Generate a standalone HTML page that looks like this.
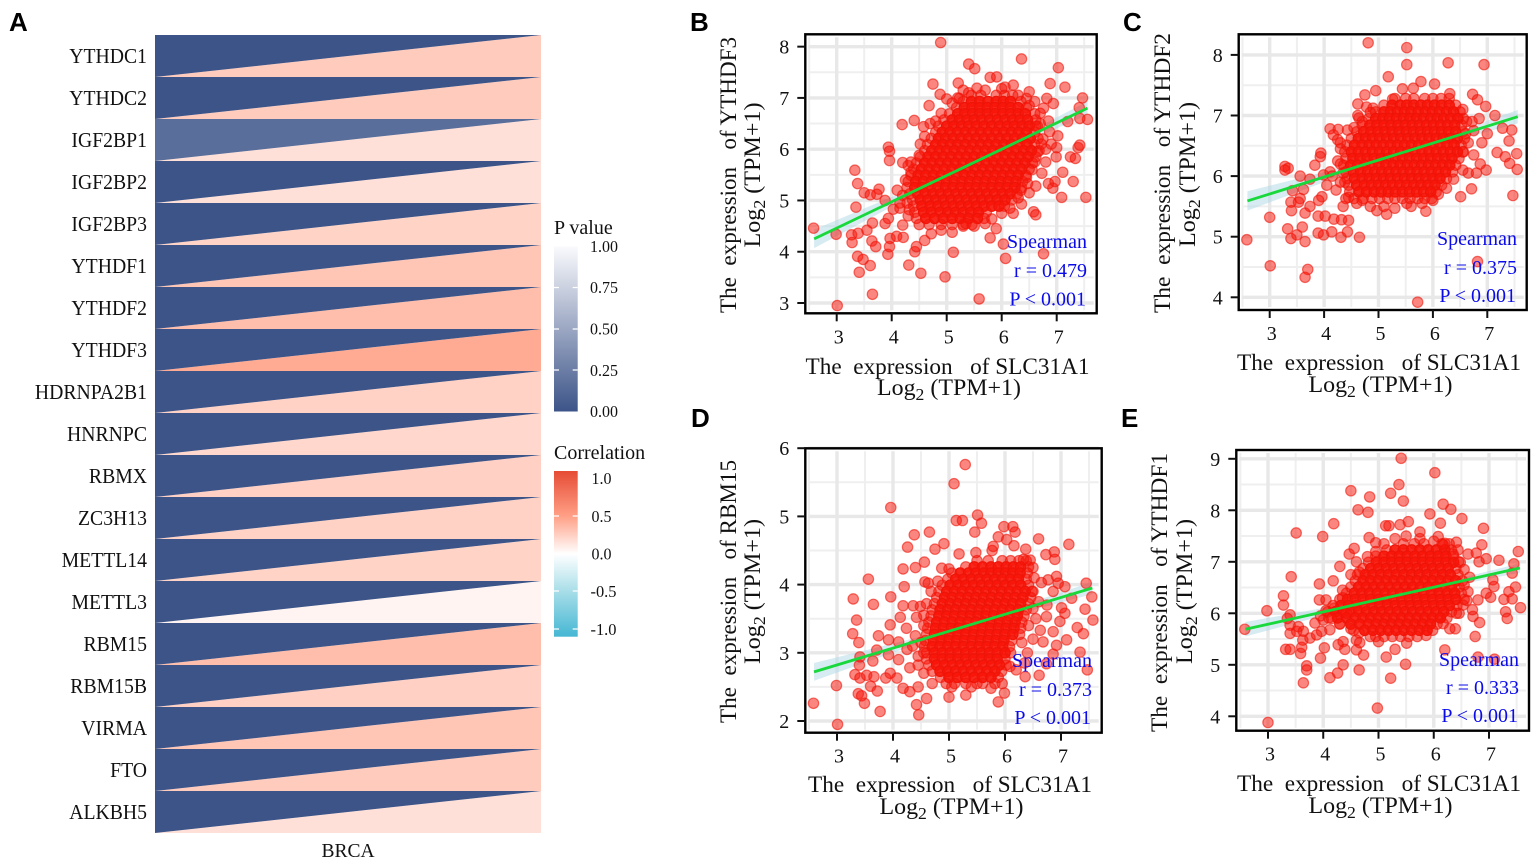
<!DOCTYPE html>
<html lang="en">
<head>
<meta charset="utf-8">
<title>SLC31A1 correlation figure</title>
<style>
html,body{margin:0;padding:0;background:#fff;}
svg{display:block;font-family:"Liberation Serif",serif;}
.ttl{font-size:23px;fill:#111;white-space:pre;}
.stat{font-size:20px;fill:#0b0bea;text-anchor:end;}
.letter{font-family:"Liberation Sans",sans-serif;font-weight:700;font-size:26px;fill:#000;}
.leg{font-size:17px;fill:#111;}
.legt{font-size:20px;fill:#111;}
</style>
</head>
<body>
<svg id="fig" width="1535" height="862" viewBox="0 0 1535 862" xmlns="http://www.w3.org/2000/svg">
<defs>
<linearGradient id="pGrad" x1="0" y1="0" x2="0" y2="1"><stop offset="0" stop-color="#fafafd"/><stop offset="1" stop-color="#3C5488"/></linearGradient>
<linearGradient id="cGrad" x1="0" y1="0" x2="0" y2="1"><stop offset="0" stop-color="#E64B35"/><stop offset="0.27" stop-color="#FF9F85"/><stop offset="0.5" stop-color="#ffffff"/><stop offset="0.73" stop-color="#A6DDE8"/><stop offset="1" stop-color="#45B7D3"/></linearGradient>
</defs>
<rect width="1535" height="862" fill="#fff"/>

<text class="letter" x="9" y="31">A</text>
<text class="letter" x="690" y="31">B</text>
<text class="letter" x="1123" y="31">C</text>
<text class="letter" x="691" y="427">D</text>
<text class="letter" x="1121" y="427">E</text>

<g id="heat"></g>
<text x="348" y="857" text-anchor="middle" font-size="19.5" fill="#111">BRCA</text>

<g>
<text class="legt" x="554" y="234">P value</text>
<rect x="554" y="246.5" width="23.7" height="165" fill="url(#pGrad)"/>
<g stroke="#fff" stroke-width="1.2">
<path d="M554 287.5h5M572.7 287.5h5M554 329h5M572.7 329h5M554 370h5M572.7 370h5"/>
</g>
<text class="leg" x="590" y="252" textLength="28" lengthAdjust="spacingAndGlyphs">1.00</text>
<text class="leg" x="590" y="293" textLength="28" lengthAdjust="spacingAndGlyphs">0.75</text>
<text class="leg" x="590" y="334.5" textLength="28" lengthAdjust="spacingAndGlyphs">0.50</text>
<text class="leg" x="590" y="376" textLength="28" lengthAdjust="spacingAndGlyphs">0.25</text>
<text class="leg" x="590" y="417" textLength="28" lengthAdjust="spacingAndGlyphs">0.00</text>
</g>

<g>
<text class="legt" x="554" y="459">Correlation</text>
<rect x="554" y="471" width="23.7" height="165.7" fill="url(#cGrad)"/>
<g stroke="#fff" stroke-width="1.2">
<path d="M554 516h5M572.7 516h5M554 553.5h5M572.7 553.5h5M554 591h5M572.7 591h5M554 629h5M572.7 629h5"/>
</g>
<text class="leg" x="591.5" y="484" textLength="20" lengthAdjust="spacingAndGlyphs">1.0</text>
<text class="leg" x="591.5" y="522" textLength="20" lengthAdjust="spacingAndGlyphs">0.5</text>
<text class="leg" x="591.5" y="559.5" textLength="20" lengthAdjust="spacingAndGlyphs">0.0</text>
<text class="leg" x="590.5" y="597" textLength="26" lengthAdjust="spacingAndGlyphs">-0.5</text>
<text class="leg" x="590.5" y="635" textLength="26" lengthAdjust="spacingAndGlyphs">-1.0</text>
</g>

<g id="panelB"></g>
<g id="panelC"></g>
<g id="panelD"></g>
<g id="panelE"></g>

<!-- panel B text -->
<g>
<text class="ttl" x="947.5" y="374" text-anchor="middle" textLength="284" lengthAdjust="spacingAndGlyphs" xml:space="preserve">The  expression   of SLC31A1</text>
<text class="ttl" x="949" y="395" text-anchor="middle" textLength="144" lengthAdjust="spacingAndGlyphs" xml:space="preserve">Log<tspan font-size="17" dy="5">2</tspan><tspan dy="-5"> (TPM+1)</tspan></text>
<text class="ttl" transform="translate(736,175) rotate(-90)" text-anchor="middle" textLength="276" lengthAdjust="spacingAndGlyphs" xml:space="preserve">The  expression   of YTHDF3</text>
<text class="ttl" transform="translate(760,175) rotate(-90)" text-anchor="middle" textLength="145" lengthAdjust="spacingAndGlyphs" xml:space="preserve">Log<tspan font-size="17" dy="5">2</tspan><tspan dy="-5"> (TPM+1)</tspan></text>
<text class="stat" x="1087" y="248">Spearman</text>
<text class="stat" x="1087" y="277">r = 0.479</text>
<text class="stat" x="1086" y="305.5">P &lt; 0.001</text>
</g>
<!-- panel C text -->
<g>
<text class="ttl" x="1379" y="370" text-anchor="middle" textLength="284" lengthAdjust="spacingAndGlyphs" xml:space="preserve">The  expression   of SLC31A1</text>
<text class="ttl" x="1380.5" y="392" text-anchor="middle" textLength="144" lengthAdjust="spacingAndGlyphs" xml:space="preserve">Log<tspan font-size="17" dy="5">2</tspan><tspan dy="-5"> (TPM+1)</tspan></text>
<text class="ttl" transform="translate(1170,173) rotate(-90)" text-anchor="middle" textLength="280" lengthAdjust="spacingAndGlyphs" xml:space="preserve">The  expression   of YTHDF2</text>
<text class="ttl" transform="translate(1195,174.5) rotate(-90)" text-anchor="middle" textLength="145" lengthAdjust="spacingAndGlyphs" xml:space="preserve">Log<tspan font-size="17" dy="5">2</tspan><tspan dy="-5"> (TPM+1)</tspan></text>
<text class="stat" x="1517" y="245">Spearman</text>
<text class="stat" x="1517" y="274">r = 0.375</text>
<text class="stat" x="1516" y="302">P &lt; 0.001</text>
</g>
<!-- panel D text -->
<g>
<text class="ttl" x="950" y="792" text-anchor="middle" textLength="284" lengthAdjust="spacingAndGlyphs" xml:space="preserve">The  expression   of SLC31A1</text>
<text class="ttl" x="951.5" y="814" text-anchor="middle" textLength="144" lengthAdjust="spacingAndGlyphs" xml:space="preserve">Log<tspan font-size="17" dy="5">2</tspan><tspan dy="-5"> (TPM+1)</tspan></text>
<text class="ttl" transform="translate(736,591.5) rotate(-90)" text-anchor="middle" textLength="263" lengthAdjust="spacingAndGlyphs" xml:space="preserve">The  expression   of RBM15</text>
<text class="ttl" transform="translate(760,591.5) rotate(-90)" text-anchor="middle" textLength="145" lengthAdjust="spacingAndGlyphs" xml:space="preserve">Log<tspan font-size="17" dy="5">2</tspan><tspan dy="-5"> (TPM+1)</tspan></text>
<text class="stat" x="1092" y="667">Spearman</text>
<text class="stat" x="1092" y="696">r = 0.373</text>
<text class="stat" x="1091" y="724">P &lt; 0.001</text>
</g>
<!-- panel E text -->
<g>
<text class="ttl" x="1379" y="791" text-anchor="middle" textLength="284" lengthAdjust="spacingAndGlyphs" xml:space="preserve">The  expression   of SLC31A1</text>
<text class="ttl" x="1380.5" y="813" text-anchor="middle" textLength="144" lengthAdjust="spacingAndGlyphs" xml:space="preserve">Log<tspan font-size="17" dy="5">2</tspan><tspan dy="-5"> (TPM+1)</tspan></text>
<text class="ttl" transform="translate(1167,592.5) rotate(-90)" text-anchor="middle" textLength="279" lengthAdjust="spacingAndGlyphs" xml:space="preserve">The  expression   of YTHDF1</text>
<text class="ttl" transform="translate(1192,591.5) rotate(-90)" text-anchor="middle" textLength="145" lengthAdjust="spacingAndGlyphs" xml:space="preserve">Log<tspan font-size="17" dy="5">2</tspan><tspan dy="-5"> (TPM+1)</tspan></text>
<text class="stat" x="1519" y="666">Spearman</text>
<text class="stat" x="1519" y="694">r = 0.333</text>
<text class="stat" x="1518" y="722">P &lt; 0.001</text>
</g>
</svg>

<script>
// ---------- heatmap data ----------
const genes=["YTHDC1","YTHDC2","IGF2BP1","IGF2BP2","IGF2BP3","YTHDF1","YTHDF2","YTHDF3","HDRNPA2B1","HNRNPC","RBMX","ZC3H13","METTL14","METTL3","RBM15","RBM15B","VIRMA","FTO","ALKBH5"];
const correlations=[0.29,0.29,0.17,0.17,0.24,0.32,0.36,0.465,0.25,0.22,0.26,0.25,0.24,0.06,0.36,0.26,0.32,0.29,0.17];
const pValues=[0,0,0.15,0,0,0,0,0,0,0,0,0,0,0,0,0,0,0,0];

// ---------- scatter data ----------
const xTicks=[3,4,5,6,7];
const xMinor=[2.5,3.5,4.5,5.5,6.5,7.5];
const yTicksB=[3,4,5,6,7,8];
const yMinorB=[3.5,4.5,5.5,6.5,7.5];
const fitXB=[2.59,7.56];
const fitYB=[4.25,6.8];
const bandHalfB=[0.18,0.03,0.13];
const pointsB=[[4.89,8.08],[6.36,7.76],[5.4,7.66],[5.51,7.57],[7.03,7.59],[5.79,7.4],[5.91,7.41],[4.75,7.27],[5.21,7.29],[6.88,7.28],[7.15,7.21],[7.47,7],[4.88,7.07],[5,6.98],[4.68,6.85],[7.41,6.81],[7.56,6.58],[7.42,6.6],[7.2,6.54],[4.41,6.56],[4.19,6.48],[4.58,6.44],[3.94,6.04],[3.96,5.96],[3.96,5.78],[4.52,6.1],[4.2,5.74],[4.3,5.68],[3.33,5.59],[3.38,5.33],[3.5,5.15],[3.61,5.11],[3.77,5.22],[3.73,5.12],[3.35,4.87],[3.88,5],[3.65,4.56],[2.58,4.46],[2.99,4.34],[3.27,4.33],[3.39,4.36],[3.55,4.42],[3.28,4.18],[3.64,4.21],[3.71,4.1],[3.38,3.91],[3.48,3.85],[3.61,3.73],[3.41,3.6],[3.65,3.17],[3.01,2.95],[4.31,3.74],[4.53,3.58],[4.97,3.51],[5.59,3.08],[5.12,3.99],[4.42,4],[3.93,3.95],[3.96,4.1],[3.97,4.26],[4.09,4.3],[4.21,4.28],[4.03,4.83],[4.15,4.85],[3.88,4.55],[3.94,4.65],[5.79,4.27],[5.9,4.45],[5.82,4.64],[6.03,4.15],[6.07,3.87],[6.76,3.96],[6.21,4.75],[6.36,4.93],[6.58,4.78],[6.62,4.72],[6.5,5.15],[6.62,5.28],[6.47,5.33],[6.73,5.53],[6.85,5.33],[6.93,5.24],[6.97,5.37],[7.09,5.06],[7.11,5.55],[7.3,5.37],[7.53,5.06],[7.25,5.85],[7.34,5.82],[7.39,6.03],[7.42,6.08],[7,6.03],[7.02,6.26],[6.99,5.85],[6.87,6.34],[6.82,6.99],[6.94,6.89],[6.5,7.12],[6.45,6.99],[6.6,6.93],[6.76,6.8],[6.21,7.25],[6.06,7.21],[5.55,7.19],[5.3,7.15],[5.23,6.99],[4.3,4.7],[4.2,4.52],[4.45,4.1],[4.6,4.22],[4.72,4.35],[4.9,4.42],[5.1,4.38],[5.3,4.5],[4.25,5.4],[4.1,5.2],[4.35,5.55],[4.5,5.88],[6.75,6.2],[6.85,6.55],[6.9,6.1],[6.8,5.75],[6.65,5.95],[6.7,6.5],[6.7,6.7],[6.62,6.45],[6.72,6.1],[6.8,6],[6.55,5.6],[6.6,5.75],[6.45,5.45],[6.35,5.2],[6.3,5.05],[6.15,4.85],[6,4.75],[5.7,4.55],[5.5,4.5],[5.35,4.55],[4.35,5.75],[4.6,6.25],[4.7,6.5],[4.8,6.55],[4.9,6.7],[5.1,6.9],[5.2,7],[5.4,7.1],[5.7,7.15],[6,7.18],[6.3,7.05],[6.5,6.85],[4.2,5.1],[4.28,4.95],[4.15,4.95],[4.32,4.82]];
const coreRowsB=[[7.05,[5.45,5.62,5.9,6.05,6.2]],[6.93,[5.3,5.45,5.6,5.75,5.9,6.03,6.16,6.35]],[6.81,[5.18,5.32,5.46,5.6,5.74,5.88,6.02,6.16,6.3,6.45]],[6.69,[5.05,5.2,5.33,5.47,5.6,5.74,5.88,6.02,6.16,6.3,6.43,6.6]],[6.57,[4.95,5.1,5.23,5.37,5.5,5.64,5.78,5.92,6.06,6.2,6.33,6.47,6.62]],[6.45,[4.85,5,5.13,5.27,5.4,5.54,5.68,5.82,5.96,6.1,6.23,6.37,6.5,6.65]],[6.33,[4.8,4.92,5.06,5.2,5.34,5.48,5.62,5.76,5.9,6.04,6.18,6.31,6.45,6.6]],[6.21,[4.72,4.85,4.98,5.12,5.26,5.4,5.54,5.68,5.82,5.96,6.1,6.24,6.38,6.52,6.66]],[6.09,[4.65,4.8,4.93,5.07,5.2,5.34,5.48,5.62,5.76,5.9,6.04,6.18,6.32,6.46,6.6]],[5.97,[4.6,4.73,4.87,5,5.14,5.28,5.42,5.56,5.7,5.84,5.98,6.12,6.26,6.4,6.54,6.68]],[5.85,[4.52,4.66,4.8,4.94,5.08,5.22,5.36,5.5,5.64,5.78,5.92,6.06,6.2,6.34,6.48,6.62]],[5.73,[4.45,4.6,4.74,4.88,5.02,5.16,5.3,5.44,5.58,5.72,5.86,6,6.14,6.28,6.42,6.56]],[5.61,[4.4,4.54,4.68,4.82,4.96,5.1,5.24,5.38,5.52,5.66,5.8,5.94,6.08,6.22,6.36,6.5]],[5.49,[4.35,4.48,4.62,4.76,4.9,5.04,5.18,5.32,5.46,5.6,5.74,5.88,6.02,6.16,6.3,6.44]],[5.37,[4.3,4.44,4.58,4.72,4.86,5,5.14,5.28,5.42,5.56,5.7,5.84,5.98,6.12,6.26,6.38]],[5.25,[4.28,4.42,4.56,4.7,4.84,4.98,5.12,5.26,5.4,5.54,5.68,5.82,5.96,6.1,6.24,6.36]],[5.13,[4.33,4.47,4.61,4.75,4.89,5.03,5.17,5.31,5.45,5.59,5.73,5.87,6.01,6.15,6.28]],[5.01,[4.38,4.52,4.66,4.8,4.94,5.08,5.22,5.36,5.5,5.64,5.78,5.92,6.06,6.18]],[4.89,[4.4,4.55,4.7,4.84,4.98,5.12,5.26,5.4,5.54,5.68,5.82,5.95,6.05]],[4.77,[4.42,4.58,4.72,4.88,5.02,5.16,5.3,5.44,5.58,5.72]],[4.65,[4.45,4.62,4.78,4.94,5.1,5.25,5.4,5.56,5.68]],[4.53,[4.5,4.68,4.9,5.1,5.3,5.46]]];

const yTicksC=[4,5,6,7,8];
const yMinorC=[4.5,5.5,6.5,7.5];
const fitXC=[2.59,7.56];
const fitYC=[5.59,6.98];
const bandHalfC=[0.16,0.025,0.11];
const pointsC=[[4.81,8.2],[5.52,8.12],[5.52,7.84],[6.28,7.87],[6.94,7.84],[5.18,7.64],[5.78,7.56],[6.03,7.52],[5.44,7.44],[5.64,7.45],[4.95,7.41],[4.75,7.34],[6.73,7.35],[6.82,7.26],[6.31,7.36],[4.62,7.19],[6.97,7.15],[7.14,7],[4.78,7.14],[4.9,7.12],[4.64,6.96],[5.26,7.27],[4.11,6.78],[4.26,6.77],[4.43,6.76],[4.17,6.68],[7.28,6.79],[7.45,6.76],[7.4,6.58],[7.18,6.39],[7.33,6.32],[7.54,6.37],[7.41,6.21],[7.55,6.11],[7.47,5.68],[6.51,5.66],[6.71,5.79],[6.98,6.1],[6.87,6.2],[5.87,5.42],[3.93,6.32],[3.94,6.38],[3.83,6.18],[3.28,6.16],[3.34,6.13],[3.28,6.1],[3.56,6],[3.74,5.95],[3.62,5.78],[3.42,5.76],[3.56,5.63],[3.39,5.57],[3.53,5.57],[3.4,5.43],[3.65,5.39],[3.74,5.5],[3.89,5.34],[4.02,5.34],[4.18,5.29],[4.32,5.28],[4.45,5.27],[3,5.32],[2.58,4.95],[3.33,5.13],[3.6,5.16],[3.5,5.03],[3.39,4.97],[3.65,4.92],[3.89,5.06],[3.99,5.03],[4.14,5.08],[4.43,5.08],[4.31,4.99],[4.65,4.99],[3.01,4.52],[3.7,4.46],[3.65,4.33],[5.72,3.92],[6.82,4.59],[3.96,5.66],[3.9,5.6],[4.35,5.5],[3.99,6.02],[4.11,6.07],[4.22,5.77],[4.05,5.85],[4.97,5.43],[5.15,5.37],[5.3,5.47],[5.52,5.55],[4.25,6.25],[4.15,6],[4.3,6.45],[4.38,5.9],[6.65,6.55],[6.75,6.75],[6.85,6.95],[6.9,6.55],[6.75,6.35],[6.65,6.05],[6.55,6.1],[6.8,6.05],[7,6.7],[6.72,6.9],[4.25,6.6],[4.3,6.2],[4.3,5.9],[4.35,6.05],[4.3,6.55],[4.45,5.65],[4.6,5.55],[4.7,5.6],[4.85,5.5],[5.1,5.5],[5.6,5.5],[5.8,5.55],[6,5.6],[6.1,5.7],[6.25,5.8],[6.38,5.95],[6.55,6.4],[6.6,6.7],[6.62,6.9],[6.55,7.1],[4.7,6.9],[4.55,6.8],[4.62,7],[4.85,7.05]];
const coreRowsC=[[7.28,[5.3,5.5,5.65,5.85,6,6.15,6.3]],[7.17,[5.1,5.25,5.4,5.52,5.65,5.78,5.9,6.03,6.16,6.3,6.42]],[7.06,[4.95,5.1,5.22,5.35,5.48,5.6,5.73,5.86,5.99,6.12,6.25,6.38,6.5]],[6.95,[4.82,4.95,5.08,5.2,5.33,5.46,5.58,5.7,5.83,5.96,6.08,6.2,6.33,6.46,6.56]],[6.84,[4.7,4.84,4.97,5.1,5.23,5.36,5.49,5.62,5.75,5.88,6.01,6.14,6.27,6.4,6.53]],[6.73,[4.6,4.73,4.86,4.99,5.12,5.25,5.38,5.51,5.64,5.77,5.9,6.03,6.16,6.29,6.42,6.55]],[6.62,[4.5,4.63,4.76,4.89,5.02,5.15,5.28,5.41,5.54,5.67,5.8,5.93,6.06,6.19,6.32,6.45,6.58]],[6.51,[4.42,4.56,4.7,4.83,4.96,5.09,5.22,5.35,5.48,5.61,5.74,5.87,6,6.13,6.26,6.39,6.52]],[6.4,[4.38,4.5,4.63,4.76,4.89,5.02,5.15,5.28,5.41,5.54,5.67,5.8,5.93,6.06,6.19,6.32,6.45,6.56]],[6.29,[4.4,4.53,4.66,4.79,4.92,5.05,5.18,5.31,5.44,5.57,5.7,5.83,5.96,6.09,6.22,6.35,6.48]],[6.18,[4.36,4.49,4.62,4.75,4.88,5.01,5.14,5.27,5.4,5.53,5.66,5.79,5.92,6.05,6.18,6.31,6.42]],[6.07,[4.4,4.54,4.67,4.8,4.93,5.06,5.19,5.32,5.45,5.58,5.71,5.84,5.97,6.1,6.23,6.36]],[5.96,[4.42,4.56,4.7,4.83,4.96,5.09,5.22,5.35,5.48,5.61,5.74,5.87,6,6.13,6.25]],[5.85,[4.45,4.6,4.74,4.87,5,5.13,5.26,5.39,5.52,5.65,5.78,5.91,6.04,6.16]],[5.74,[4.47,4.64,4.78,4.92,5.05,5.18,5.31,5.44,5.57,5.7,5.83,5.96,6.06]],[5.63,[4.4,4.55,4.72,4.88,5.02,5.17,5.3,5.44,5.58,5.72,5.85,5.98]]];

const yTicksD=[2,3,4,5,6];
const yMinorD=[2.5,3.5,4.5,5.5];
const fitXD=[2.59,7.56];
const fitYD=[2.72,3.95];
const bandHalfD=[0.13,0.02,0.09];
const pointsD=[[5.29,5.76],[5.09,5.48],[3.96,5.13],[5.51,5.02],[5.58,4.9],[5.13,4.94],[5.24,4.94],[5.46,4.77],[5.98,4.85],[6.14,4.85],[6.18,4.77],[5.88,4.7],[6.03,4.66],[6.6,4.67],[6.16,4.57],[7.14,4.59],[4.65,4.77],[4.38,4.73],[4.26,4.55],[4.91,4.6],[4.75,4.52],[5.79,4.56],[5.77,4.5],[6.37,4.52],[5.18,4.45],[5.48,4.47],[6.88,4.48],[6.73,4.44],[6.89,4.37],[4.56,4.33],[4.4,4.25],[4.18,4.23],[4.87,4.24],[5,4.23],[3.56,4.08],[4.2,3.97],[4.57,4.04],[4.63,4.02],[3.29,3.79],[3.65,3.71],[3.96,3.82],[3.35,3.48],[3.28,3.28],[3.39,3.15],[3.74,3.25],[3.95,3.41],[4.13,3.52],[4.18,3.69],[4.36,3.69],[4.49,3.68],[4.42,3.52],[4.24,3.36],[3.92,3.19],[4.1,3.16],[3.71,3.04],[3.92,2.97],[3.41,2.94],[3.64,2.88],[3.4,2.82],[3.32,2.68],[3.41,2.63],[3.53,2.67],[3.66,2.65],[3.6,2.51],[3.72,2.44],[3.38,2.4],[3.44,2.37],[3.49,2.26],[2.99,2.52],[2.58,2.26],[3.01,1.95],[3.77,2.14],[4.42,2.24],[4.46,2.09],[4.6,2.33],[5,2.35],[5.3,2.38],[5.88,2.28],[5.99,2.41],[4.18,2.48],[4.3,2.43],[4.45,2.5],[3.95,2.7],[4.07,2.63],[3.87,2.63],[6.36,2.65],[6.61,2.67],[6.74,2.84],[7.47,2.75],[7.34,3.01],[7.1,3.19],[6.92,3.11],[6.86,2.98],[7.4,3.28],[7.29,3.37],[7.57,3.48],[7.43,3.64],[7.55,3.82],[7.45,4.02],[7.19,3.8],[7.07,3.58],[7.01,3.66],[7.07,3.97],[6.92,4.12],[6.95,4.02],[6.86,3.9],[6.77,4.07],[6.65,4.03],[6.98,3.46],[6.86,3.31],[6.74,3.53],[6.63,3.33],[6.68,3.16],[6.45,4.36],[6.33,4.37],[6.09,2.8],[6.6,3.75],[6.75,3.7],[6.55,3.5],[6.5,3.2],[6.4,3],[4.1,2.9],[4.25,3.05],[4.4,3.25],[4.3,2.78],[4.45,2.95],[4.55,3.4],[4.55,2.7],[4.7,2.55],[5.6,2.55],[5.75,2.48],[4.55,3.55],[4.6,3.72],[4.68,3.9],[4.8,4.05],[4.5,3.15],[4.45,2.82],[4.55,3],[4.35,3.1],[6.5,3.65],[6.5,3.9],[6.52,4.1],[6.5,4.25],[6.35,2.85],[6.2,2.75],[6.3,3.15],[6.42,3.4],[5.05,2.5],[5.4,2.5]];
const coreRowsD=[[4.35,[5.5,5.7,5.95,6.1,6.25,6.38]],[4.26,[5.3,5.45,5.6,5.75,5.88,6.02,6.15,6.28,6.42]],[4.17,[5.05,5.2,5.35,5.48,5.62,5.75,5.88,6.01,6.14,6.27,6.4]],[4.08,[4.98,5.12,5.26,5.4,5.54,5.68,5.82,5.96,6.1,6.24,6.38]],[3.99,[4.88,5.02,5.16,5.3,5.44,5.58,5.72,5.86,6,6.14,6.28,6.42]],[3.9,[4.82,4.96,5.1,5.24,5.38,5.52,5.66,5.8,5.94,6.08,6.22,6.36,6.48]],[3.81,[4.78,4.92,5.06,5.2,5.34,5.48,5.62,5.76,5.9,6.04,6.18,6.32,6.46]],[3.72,[4.74,4.88,5.02,5.16,5.3,5.44,5.58,5.72,5.86,6,6.14,6.28,6.42]],[3.63,[4.7,4.84,4.98,5.12,5.26,5.4,5.54,5.68,5.82,5.96,6.1,6.24,6.38]],[3.54,[4.68,4.82,4.96,5.1,5.24,5.38,5.52,5.66,5.8,5.94,6.08,6.22,6.34]],[3.45,[4.64,4.78,4.92,5.06,5.2,5.34,5.48,5.62,5.76,5.9,6.04,6.18,6.3]],[3.36,[4.62,4.76,4.9,5.04,5.18,5.32,5.46,5.6,5.74,5.88,6.02,6.16,6.28]],[3.27,[4.6,4.74,4.88,5.02,5.16,5.3,5.44,5.58,5.72,5.86,6,6.14,6.26]],[3.18,[4.58,4.72,4.86,5,5.14,5.28,5.42,5.56,5.7,5.84,5.98,6.12]],[3.09,[4.56,4.7,4.84,4.98,5.12,5.26,5.4,5.54,5.68,5.82,5.96,6.08]],[3,[4.6,4.74,4.88,5.02,5.16,5.3,5.44,5.58,5.72,5.86,6,6.1]],[2.91,[4.6,4.74,4.88,5.02,5.16,5.3,5.44,5.58,5.72,5.86,6]],[2.82,[4.64,4.78,4.92,5.06,5.2,5.34,5.48,5.62,5.76,5.9,6.02]],[2.73,[4.7,4.84,4.98,5.12,5.26,5.4,5.54,5.68,5.82,5.94]],[2.64,[4.85,5,5.15,5.3,5.45,5.6,5.75,5.88]],[2.55,[4.95,5.1,5.3,5.5,5.82,5.95]]];

const yTicksE=[4,5,6,7,8,9];
const yMinorE=[4.5,5.5,6.5,7.5,8.5];
const fitXE=[2.59,7.56];
const fitYE=[5.69,6.88];
const bandHalfE=[0.14,0.025,0.09];
const pointsE=[[5.41,9.01],[6.02,8.73],[5.37,8.5],[5.22,8.33],[4.5,8.38],[4.84,8.26],[5.45,8.18],[6.17,8.12],[6.31,8.02],[4.63,8.01],[4.81,7.96],[5.93,7.93],[6.51,7.84],[4.19,7.74],[6.12,7.75],[6.9,7.65],[3.51,7.56],[3.99,7.49],[5.13,7.7],[5.19,7.7],[5.39,7.72],[5.54,7.78],[5.75,7.58],[4.83,7.47],[4.95,7.37],[4.56,7.26],[4.47,7.15],[6.87,7.33],[6.41,7.38],[7.53,7.2],[7.18,7.03],[6.95,7.06],[6.82,7],[6.77,7.17],[6.62,7.15],[7.45,6.96],[7.42,6.78],[7.48,6.51],[7.36,6.42],[7.07,6.65],[7.09,6.52],[7.03,6.31],[7.27,6.27],[7.42,6.28],[7.57,6.11],[7.3,6.03],[7.33,5.9],[6.83,5.82],[6.75,5.55],[6.2,5.29],[6.39,5.7],[6.29,5.7],[6.8,5.15],[7.1,5.11],[5.49,5.01],[5.22,4.74],[4.65,4.9],[4.36,5],[4.26,4.84],[4.12,4.75],[4.98,4.16],[3,3.88],[3.64,4.65],[3.7,4.9],[3.7,4.98],[3.95,5.13],[3.59,5.22],[3.61,5.34],[3.32,5.3],[3.4,5.3],[4.02,5.33],[4.73,5.19],[4.6,5.29],[5.14,5.15],[5.3,5.3],[2.58,5.69],[2.98,6.05],[3.28,6.16],[3.28,6.34],[3.42,6.71],[3.93,6.57],[4.18,6.63],[4.3,6.91],[3.93,6.26],[4.05,6.26],[3.4,5.97],[3.35,5.9],[3.4,5.77],[3.4,5.61],[3.52,5.65],[3.55,5.74],[3.64,5.65],[3.63,5.48],[3.76,5.52],[3.88,5.58],[3.97,5.65],[3.85,5.81],[4,5.87],[4.12,5.68],[4.27,5.39],[4.36,5.45],[4.39,5.3],[4.6,5.48],[4.66,5.43],[5,5.45],[5.51,5.42],[5.86,5.57],[6.17,5.8],[6.46,6],[6.71,5.94],[6.7,6.07],[6.8,6.26],[6.95,6.39],[6.62,6.42],[6.53,6.16],[6.41,6],[6.2,7.36],[6.08,7.49],[6.17,7.33],[6.44,7.23],[3.95,5.95],[4.05,6.05],[4.15,5.9],[4.2,6.1],[4.3,5.8],[4.35,6.3],[4.42,6],[4.35,6.45],[4.5,6.75],[4.6,7],[4.65,6.8],[4.5,5.7],[4.65,5.62],[4.85,5.55],[6.55,6.55],[6.65,6.7],[6.55,6.85],[6.45,7],[6.6,6.25],[4.8,7.1],[4.95,7.2],[5.1,7.35],[5.3,7.45],[5.5,7.5],[5.75,7.45],[6,7.4],[6.35,7.15]];
const coreRowsE=[[7.35,[5.45,5.65,5.82,6.15,6.28]],[7.23,[5.15,5.3,5.45,5.6,5.75,5.9,6.05,6.2,6.32]],[7.11,[4.95,5.1,5.24,5.38,5.52,5.66,5.8,5.94,6.08,6.22,6.36]],[6.99,[4.82,4.96,5.1,5.24,5.38,5.52,5.66,5.8,5.94,6.08,6.22,6.36,6.48]],[6.87,[4.72,4.86,5,5.14,5.28,5.42,5.56,5.7,5.84,5.98,6.12,6.26,6.4]],[6.75,[4.62,4.76,4.9,5.04,5.18,5.32,5.46,5.6,5.74,5.88,6.02,6.16,6.3,6.44]],[6.63,[4.58,4.72,4.86,5,5.14,5.28,5.42,5.56,5.7,5.84,5.98,6.12,6.26,6.4,6.52]],[6.51,[4.5,4.64,4.78,4.92,5.06,5.2,5.34,5.48,5.62,5.76,5.9,6.04,6.18,6.32,6.46]],[6.39,[4.42,4.56,4.7,4.84,4.98,5.12,5.26,5.4,5.54,5.68,5.82,5.96,6.1,6.24,6.38,6.5]],[6.27,[4.3,4.44,4.58,4.72,4.86,5,5.14,5.28,5.42,5.56,5.7,5.84,5.98,6.12,6.26,6.4,6.55]],[6.15,[4.18,4.32,4.46,4.6,4.74,4.88,5.02,5.16,5.3,5.44,5.58,5.72,5.86,6,6.14,6.28,6.42]],[6.03,[4.08,4.22,4.36,4.5,4.64,4.78,4.92,5.06,5.2,5.34,5.48,5.62,5.76,5.9,6.04,6.18,6.32]],[5.91,[4.1,4.26,4.42,4.58,4.72,4.86,5,5.14,5.28,5.42,5.56,5.7,5.84,5.98,6.12,6.24]],[5.79,[4.3,4.5,4.66,4.82,4.96,5.1,5.24,5.38,5.52,5.66,5.8,5.94,6.06]],[5.67,[4.55,4.75,4.9,5.04,5.18,5.32,5.46,5.6,5.74,5.88,5.98]],[5.55,[4.95,5.1,5.25,5.4,5.55,5.7]]];

// ---------- layout (axis calibration only) ----------
const layoutB={l:805.3,r:1096.7,t:34.3,b:313.3,xRef:3,xPx:836.7,xK:55,yRef:3,yPx:303,yK:51.27};
const layoutC={l:1238.7,r:1526.7,t:34.3,b:310,xRef:3,xPx:1269.7,xK:54.4,yRef:4,yPx:297.3,yK:60.6};
const layoutD={l:805.3,r:1101.7,t:448.3,b:732.7,xRef:3,xPx:837,xK:56,yRef:2,yPx:721,yK:68.2};
const layoutE={l:1236.3,r:1529,t:450,b:730.7,xRef:3,xPx:1268,xK:55.25,yRef:4,yPx:716.3,yK:51.5};

const NS='http://www.w3.org/2000/svg';
function el(tag,attrs,parent){
  const e=document.createElementNS(NS,tag);
  for(const k in attrs){e.setAttribute(k,attrs[k]);}
  parent.appendChild(e);
  return e;
}
function mix(a,b,t){return a.map((v,i)=>Math.round(v+(b[i]-v)*t));}
function corrColor(v){
  const c=v<=0.5?mix([255,255,255],[255,165,139],v/0.5):mix([255,165,139],[230,75,53],(v-0.5)/0.5);
  return 'rgb('+c.join(',')+')';
}
function pColor(v){
  return 'rgb('+mix([60,84,136],[255,255,255],v).join(',')+')';
}

// ---------- heatmap ----------
const heatGroup=document.getElementById('heat');
const heatL=155,heatR=541,heatT=35,rowH=42;
genes.forEach(function(g,i){
  const y0=heatT+i*rowH,y1=y0+rowH;
  const lower=el('polygon',{points:heatL+','+y1+' '+heatR+','+y0+' '+heatR+','+y1,fill:corrColor(correlations[i])},heatGroup);
  
  
  const upper=el('polygon',{points:heatL+','+y0+' '+heatR+','+y0+' '+heatL+','+y1,fill:pColor(pValues[i])},heatGroup);
  
  
  const label=el('text',{transform:'translate(147,'+(y0+rowH/2+7)+') scale(0.93,1)','text-anchor':'end','font-size':'21.2',fill:'#111'},heatGroup);
  label.textContent=g;
  
  
});

// ---------- scatter panels ----------
function drawPanel(id,L,yTicks,yMinor,points,coreRows,fitX,fitY,bandHalf){
  const g=document.getElementById(id);
  const sx=function(v){return L.xPx+(v-L.xRef)*L.xK;};
  const sy=function(v){return L.yPx-(v-L.yRef)*L.yK;};
  const fitAt=function(x){return fitY[0]+(fitY[1]-fitY[0])*(x-fitX[0])/(fitX[1]-fitX[0]);};

  xMinor.forEach(function(v){
    if(sx(v)>L.r||sx(v)<L.l)return;
    const m=el('line',{x1:sx(v),x2:sx(v),y1:L.t+3,y2:L.b-3,stroke:'#efefef','stroke-width':2},g);
    
    
  });
  yMinor.forEach(function(v){
    const m=el('line',{y1:sy(v),y2:sy(v),x1:L.l+3,x2:L.r-3,stroke:'#efefef','stroke-width':2},g);
    
    
  });
  xTicks.forEach(function(v){
    const m=el('line',{x1:sx(v),x2:sx(v),y1:L.t+3,y2:L.b-3,stroke:'#e8e8e8','stroke-width':3.4},g);
    
    
  });
  yTicks.forEach(function(v){
    const m=el('line',{y1:sy(v),y2:sy(v),x1:L.l+3,x2:L.r-3,stroke:'#e8e8e8','stroke-width':3.4},g);
    
    
  });

  // the confidence band lies under the points so it only tints the sparse ends of the fit
  const midX=(fitX[0]+fitX[1])/2;
  const bandXs=[fitX[0],midX,fitX[1]];
  const up=bandXs.map(function(x,i){return sx(x)+','+sy(fitAt(x)+bandHalf[i]);});
  const dn=bandXs.map(function(x,i){return sx(x)+','+sy(fitAt(x)-bandHalf[i]);}).reverse();
  const band=el('polygon',{points:up.concat(dn).join(' '),fill:'#add8e6','fill-opacity':0.5},g);
  
  

  const addPoint=function(x,y,alpha){
    const c=el('circle',{cx:sx(x),cy:sy(y),r:5.2,fill:'#f8160a','fill-opacity':alpha,stroke:'#ee1408','stroke-opacity':Math.min(1,alpha+0.08),'stroke-width':1.2},g);
    
    
  };
  // dense rows sit beneath the sparse points; rim values stay translucent so the mass has a soft edge
  coreRows.forEach(function(row,ri){
    const xs=row[1];
    xs.forEach(function(x,xi){
      const rim=ri===0||ri===coreRows.length-1||xi===0||xi===xs.length-1;
      addPoint(x,row[0],rim?0.55:0.92);
    });
  });
  points.forEach(function(p){addPoint(p[0],p[1],0.52);});

  const fit=el('line',{x1:sx(fitX[0]),y1:sy(fitY[0]),x2:sx(fitX[1]),y2:sy(fitY[1]),stroke:'#18d83c','stroke-width':2.8},g);
  
  

  const frame=el('rect',{x:L.l,y:L.t,width:L.r-L.l,height:L.b-L.t,fill:'none',stroke:'#000','stroke-width':2.4},g);
  
  

  xTicks.forEach(function(v){
    const t=el('line',{x1:sx(v),x2:sx(v),y1:L.b,y2:L.b+8,stroke:'#111','stroke-width':2},g);
    
    
    const lab=el('text',{x:sx(v)+2,y:L.b+30,'text-anchor':'middle','font-size':'20',fill:'#111'},g);
    lab.textContent=String(v);
    
    
  });
  yTicks.forEach(function(v){
    const t=el('line',{x1:L.l-8,x2:L.l,y1:sy(v),y2:sy(v),stroke:'#111','stroke-width':2},g);
    
    
    const lab=el('text',{x:L.l-16,y:sy(v)+7,'text-anchor':'end','font-size':'20',fill:'#111'},g);
    lab.textContent=String(v);
    
    
  });
}
drawPanel('panelB',layoutB,yTicksB,yMinorB,pointsB,coreRowsB,fitXB,fitYB,bandHalfB);
drawPanel('panelC',layoutC,yTicksC,yMinorC,pointsC,coreRowsC,fitXC,fitYC,bandHalfC);
drawPanel('panelD',layoutD,yTicksD,yMinorD,pointsD,coreRowsD,fitXD,fitYD,bandHalfD);
drawPanel('panelE',layoutE,yTicksE,yMinorE,pointsE,coreRowsE,fitXE,fitYE,bandHalfE);
</script>
</body>
</html>
